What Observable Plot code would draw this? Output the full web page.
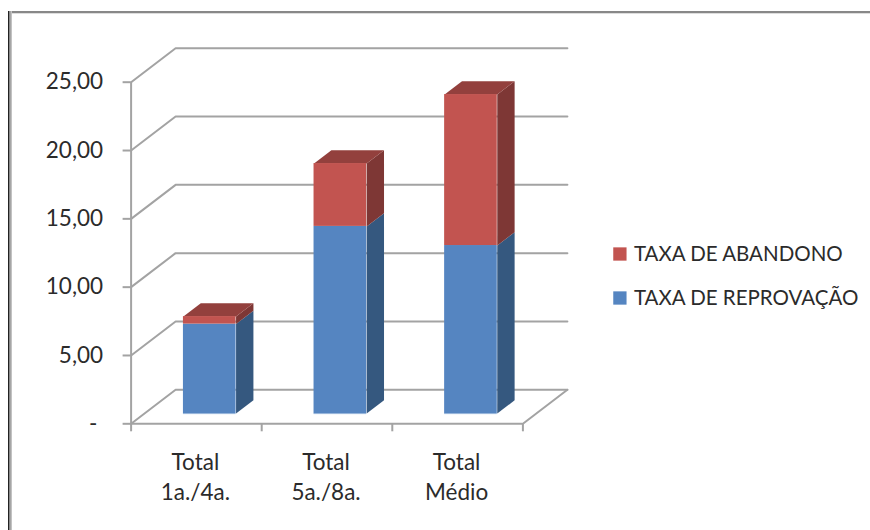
<!DOCTYPE html>
<html><head><meta charset="utf-8">
<script src="https://cdn.jsdelivr.net/npm/d3@7"></script>
<script src="https://cdn.jsdelivr.net/npm/@observablehq/plot@0.6"></script>
<style>
html,body{margin:0;padding:0;background:#fff;width:870px;height:530px;overflow:hidden}
#wrap{position:relative;width:870px;height:530px}
#top{position:absolute;left:8px;top:11px;right:0;height:2px;background:#888;box-shadow:0 1px 0 #ddd}
#left{position:absolute;left:8px;top:11px;bottom:0;width:4px;background:linear-gradient(90deg,#222 0,#222 1.5px,#8a8a8a 1.5px,#d0d0d0 4px)}
#chart{position:absolute;left:0;top:0}
</style></head><body>
<div id="wrap"><div id="top"></div><div id="left"></div><div id="chart"></div></div>
<script>
const categories = ["Total\n1a./4a.", "Total\n5a./8a.", "Total\nMédio"];
const reprovacao = [6.55, 13.7, 12.3];
const abandono = [0.55, 4.6, 11.05];
const yTicks = [0, 5, 10, 15, 20, 25];
const seriesNames = ["TAXA DE ABANDONO", "TAXA DE REPROVAÇÃO"];
const palette = {
  blue: {front: "#5585c1", side: "#35587f", edge: "#8fb0d8"},
  red: {front: "#c25450", side: "#7e3735", top: "#93403d"}
};
const gridColor = "#a3a3a3";
const textColor = "#2b2b2b";
const font = "Lato, 'Open Sans', sans-serif";

// The oblique view: depth 0 is the front of the floor, depth 1 the back wall.
const W = 870, H = 530;
const plotTop = 81.7, plotBottom = 423.3;
const depthX = 44.5 / 130.6, depthY = 34 / ((plotBottom - plotTop) / 25);
const barW = 0.403, dFront = 0.30, dBack = 0.69;
const px = (c, d) => c + d * depthX;
const py = (v, d) => v + d * depthY;

const wall = yTicks.flatMap(v => [
  {id: "w" + v, x: px(0, 0), y: py(v, 0)},
  {id: "w" + v, x: px(0, 1), y: py(v, 1)},
  {id: "w" + v, x: px(3, 1), y: py(v, 1)}
]);
const floorEdge = [
  {x: px(3, 0), y: 0}, {x: px(3, 1), y: py(0, 1)}
];

const fronts = [], polys = [], edges = [];
categories.forEach((_, i) => {
  const x0 = px(i + 0.5 - barW / 2, dFront), x1 = px(i + 0.5 + barW / 2, dFront);
  const dx = (dBack - dFront) * depthX, ys = (dBack - dFront) * depthY;
  const layers = [
    {c: palette.blue, a: 0, b: reprovacao[i], n: "b"},
    {c: palette.red, a: reprovacao[i], b: reprovacao[i] + abandono[i], n: "r"}
  ];
  layers.forEach(l => {
    const ya = py(l.a, dFront), yb = py(l.b, dFront);
    fronts.push({x1: x0, x2: x1, y1: ya, y2: yb, fill: l.c.front});
    [[x1, ya], [x1 + dx, ya + ys], [x1 + dx, yb + ys], [x1, yb]].forEach(([x, y]) =>
      polys.push({id: i + l.n + "s", x, y, fill: l.c.side}));
  });
  const t = py(reprovacao[i] + abandono[i], dFront);
  [[x0, t], [x1, t], [x1 + dx, t + ys], [x0 + dx, t + ys]].forEach(([x, y]) =>
    polys.push({id: i + "t", x, y, fill: palette.red.top}));
  edges.push({x1: x0, x2: x1, y: py(0, dFront)});
});

const fmt = v => v === 0 ? "-\u00a0" : v.toFixed(2).replace(".", ",");
const labelRows = categories.map((t, i) => ({x: i + 0.5, t}));
const only = k => (_, i) => i === k;

const plot = Plot.plot({
  width: W, height: H,
  marginLeft: 130.6, marginRight: W - 522.4, marginTop: plotTop, marginBottom: H - plotBottom,
  x: {domain: [0, 3]},
  y: {domain: [0, 25]},
  color: {type: "identity"},
  style: {background: "transparent", fontFamily: font, overflow: "visible"},
  marks: [
    Plot.line(wall, {x: "x", y: "y", z: "id", stroke: gridColor, strokeWidth: 2}),
    Plot.line(floorEdge, {x: "x", y: "y", stroke: gridColor, strokeWidth: 2}),
    Plot.ruleX([0], {stroke: gridColor, strokeWidth: 2}),
    Plot.ruleY([0], {stroke: gridColor, strokeWidth: 2}),
    Plot.axisY({ticks: yTicks, tickFormat: fmt, tickSize: 8, tickPadding: 20, stroke: gridColor, strokeWidth: 2,
      fontSize: 22.5, fill: textColor, label: null}),
    Plot.axisX({ticks: [0, 1, 2, 3], tickFormat: () => "", tickSize: 8, stroke: gridColor, strokeWidth: 2, label: null}),
    Plot.text(labelRows, {x: "x", y: () => 0, text: "t", dx: -1, dy: 25.5, lineAnchor: "top", lineHeight: 1.31,
      fontSize: 22.5, fill: textColor}),
    Plot.line(polys, {x: "x", y: "y", z: "id", fill: "fill", stroke: "none"}),
    Plot.rect(fronts, {x1: "x1", x2: "x2", y1: "y1", y2: "y2", fill: "fill"}),
    Plot.ruleY(edges, {x1: "x1", x2: "x2", y: "y", stroke: palette.blue.edge, strokeWidth: 1}),
    // legend, placed off the right edge of the frame
    Plot.dot(seriesNames, {frameAnchor: "top-right", dx: 97, dy: 171.8, symbol: "square", r: 7.5, fill: palette.red.front, filter: only(0)}),
    Plot.dot(seriesNames, {frameAnchor: "top-right", dx: 97, dy: 215.8, symbol: "square", r: 7.5, fill: palette.blue.front, filter: only(1)}),
    Plot.text(seriesNames, {frameAnchor: "top-right", dx: 111, dy: 171.8, text: d => d, textAnchor: "start", lineAnchor: "middle", fontSize: 20.5, fill: textColor, filter: only(0)}),
    Plot.text(seriesNames, {frameAnchor: "top-right", dx: 111, dy: 215.8, text: d => d, textAnchor: "start", lineAnchor: "middle", fontSize: 20.5, fill: textColor, filter: only(1)})
  ]
});
document.getElementById("chart").appendChild(plot);
</script>
</body></html>
